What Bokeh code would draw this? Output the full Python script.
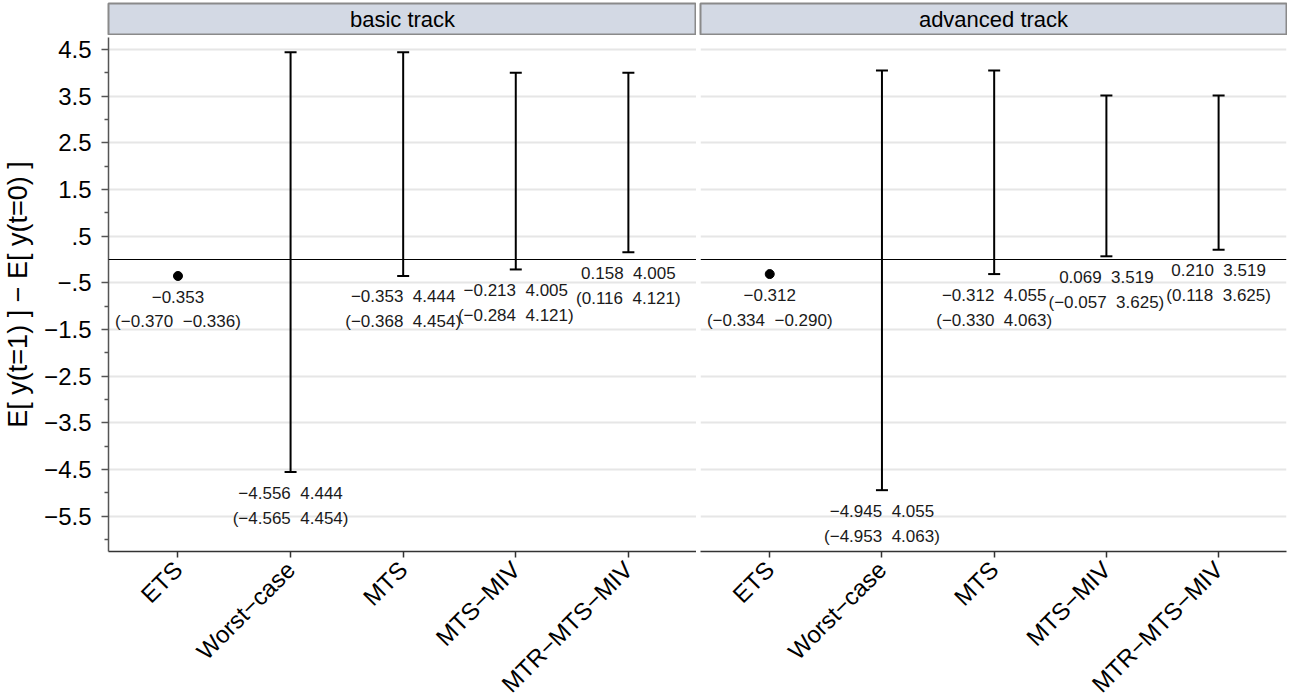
import numpy as np
from bokeh.plotting import figure
from bokeh.models import Range1d, FixedTicker, Span, ColumnDataSource
from bokeh.layouts import column, row
from bokeh.embed import file_html
from bokeh.resources import INLINE
from bokeh.core.properties import value

MINUS = "\u2212"
GAP = "\u00a0\u00a0"

categories = ["ETS", "Worst" + MINUS + "case", "MTS", "MTS" + MINUS + "MIV",
              "MTR" + MINUS + "MTS" + MINUS + "MIV"]
panel_titles = ["basic track", "advanced track"]

# basic track: bounds (lower, upper) and confidence interval (ci_lower, ci_upper)
basic_lower = [-0.353, -4.556, -0.353, -0.213, 0.158]
basic_upper = [-0.353, 4.444, 4.444, 4.005, 4.005]
basic_ci_lower = [-0.370, -4.565, -0.368, -0.284, 0.116]
basic_ci_upper = [-0.336, 4.454, 4.454, 4.121, 4.121]

# advanced track
adv_lower = [-0.312, -4.945, -0.312, 0.069, 0.210]
adv_upper = [-0.312, 4.055, 4.055, 3.519, 3.519]
adv_ci_lower = [-0.334, -4.953, -0.330, -0.057, 0.118]
adv_ci_upper = [-0.290, 4.063, 4.063, 3.625, 3.625]

y_major = [4.5, 3.5, 2.5, 1.5, 0.5, -0.5, -1.5, -2.5, -3.5, -4.5, -5.5]
y_labels = ["4.5", "3.5", "2.5", "1.5", ".5", MINUS + ".5", MINUS + "1.5", MINUS + "2.5",
            MINUS + "3.5", MINUS + "4.5", MINUS + "5.5"]
y_minor = [4, 3, 2, 1, -1, -2, -3, -4, -5, -6]
y_title = "E[ y(t=1) ] " + MINUS + " E[ y(t=0) ]"

FONT = "Liberation Sans"
FRAME_H = 514
STRIP_H = 31
LEFT_W = 588
RIGHT_W = 586
X_RANGE = (0.383, 5.605)
Y_RANGE = (-6.26, 4.76)
LEFT_BORDER = 108


def fmt(v):
    return f"{v:.3f}".replace("-", MINUS)


def make_panel(lower, upper, ci_lower, ci_upper, left):
    p = figure(
        x_range=Range1d(*X_RANGE), y_range=Range1d(*Y_RANGE),
        frame_width=LEFT_W if left else RIGHT_W, frame_height=FRAME_H,
        output_backend="svg", toolbar_location=None,
        y_axis_location="left" if left else None,
        min_border_left=LEFT_BORDER if left else 4, min_border_right=0 if left else 1,
        min_border_top=2, min_border_bottom=0,
    )
    p.outline_line_color = None
    p.background_fill_color = "white"
    p.border_fill_color = "white"

    xs = [i + 1 for i in range(len(categories))]
    p.xaxis.ticker = FixedTicker(ticks=xs)
    p.xaxis.major_label_overrides = {x: c for x, c in zip(xs, categories)}
    p.xaxis.major_label_orientation = np.pi / 4
    p.xaxis.major_label_text_font = FONT
    p.xaxis.major_label_text_font_size = "24px"
    p.xaxis.major_label_text_color = "black"
    p.xaxis.axis_line_color = "#333333"
    p.xaxis.axis_line_width = 1.5
    p.xaxis.major_tick_line_color = "#333333"
    p.xaxis.major_tick_line_width = 1.5
    p.xaxis.major_tick_out = 6
    p.xaxis.major_tick_in = 0
    p.xaxis.minor_tick_line_color = None
    p.xaxis.major_label_standoff = 8
    p.xgrid.visible = False

    p.ygrid.ticker = FixedTicker(ticks=y_major)
    p.ygrid.grid_line_color = "#e6e6e6"
    p.ygrid.grid_line_width = 2

    if left:
        p.yaxis.ticker = FixedTicker(ticks=y_major, minor_ticks=y_minor)
        p.yaxis.major_label_overrides = {t: l for t, l in zip(y_major, y_labels)}
        p.yaxis.major_label_text_font = FONT
        p.yaxis.major_label_text_font_size = "24px"
        p.yaxis.major_label_text_color = "black"
        p.yaxis.axis_line_color = "#555555"
        p.yaxis.axis_line_width = 1.5
        p.yaxis.major_tick_line_color = "#555555"
        p.yaxis.major_tick_line_width = 1.5
        p.yaxis.major_tick_out = 7
        p.yaxis.major_tick_in = 0
        p.yaxis.minor_tick_line_color = "#555555"
        p.yaxis.minor_tick_line_width = 1.5
        p.yaxis.minor_tick_out = 4
        p.yaxis.minor_tick_in = 0
        p.yaxis.major_label_standoff = 10
        p.yaxis.axis_label = y_title
        p.yaxis.axis_label_text_font = FONT
        p.yaxis.axis_label_text_font_size = "27px"
        p.yaxis.axis_label_text_font_style = "normal"
        p.yaxis.axis_label_text_color = "black"
        p.yaxis.axis_label_standoff = 8

    p.add_layout(Span(location=0, dimension="width", line_color="black", line_width=1.2))

    is_point = [lo == hi for lo, hi in zip(lower, upper)]
    line1 = []
    line2 = []
    for lo, hi, cl, cu, pt in zip(lower, upper, ci_lower, ci_upper, is_point):
        line1.append(fmt(lo) if pt else f"{fmt(lo)}{GAP}{fmt(hi)}")
        line2.append(f"({fmt(cl)}{GAP}{fmt(cu)})")

    bx = [x for x, pt in zip(xs, is_point) if not pt]
    blo = [lo for lo, pt in zip(lower, is_point) if not pt]
    bhi = [hi for hi, pt in zip(upper, is_point) if not pt]
    bars = ColumnDataSource(dict(x=bx, lo=blo, hi=bhi))
    p.segment(x0="x", y0="lo", x1="x", y1="hi", source=bars, line_color="black", line_width=2)
    p.scatter(x="x", y="lo", source=bars, marker="dash", size=12, line_color="black", line_width=2)
    p.scatter(x="x", y="hi", source=bars, marker="dash", size=12, line_color="black", line_width=2)

    pts = ColumnDataSource(dict(x=[x for x, pt in zip(xs, is_point) if pt],
                                y=[lo for lo, pt in zip(lower, is_point) if pt]))
    p.scatter(x="x", y="y", source=pts, marker="circle", size=9, fill_color="black", line_color="black")

    labels = ColumnDataSource(dict(x=xs, y=lower, t1=line1, t2=line2))
    p.text(x="x", y="y", text="t1", source=labels, y_offset=21, text_align="center",
           text_baseline="middle", text_font=value(FONT), text_font_size="17px", text_color="#1a1a1a")
    p.text(x="x", y="y", text="t2", source=labels, y_offset=46, text_align="center",
           text_baseline="middle", text_font=value(FONT), text_font_size="17px", text_color="#1a1a1a")
    return p


def make_strip(title, left):
    s = figure(
        x_range=Range1d(0, 1), y_range=Range1d(0, 1),
        frame_width=LEFT_W if left else RIGHT_W, frame_height=STRIP_H,
        output_backend="svg", toolbar_location=None,
        x_axis_location=None, y_axis_location=None,
        min_border_left=LEFT_BORDER if left else 4, min_border_right=0 if left else 1,
        min_border_top=3, min_border_bottom=1,
    )
    s.xgrid.visible = False
    s.ygrid.visible = False
    s.background_fill_color = "#d3d9e4"
    s.border_fill_color = "white"
    s.outline_line_color = "#8a8a8a"
    s.outline_line_width = 2
    s.text(x=[0.5], y=[0.5], text=[title], text_align="center", text_baseline="middle",
           text_font=value(FONT), text_font_size="22px", text_color="black")
    return s


p1 = make_panel(basic_lower, basic_upper, basic_ci_lower, basic_ci_upper, True)
p2 = make_panel(adv_lower, adv_upper, adv_ci_lower, adv_ci_upper, False)
s1 = make_strip(panel_titles[0], True)
s2 = make_strip(panel_titles[1], False)

layout = column(row(s1, s2), row(p1, p2))
open("out.html", "w").write(file_html(layout, INLINE))
